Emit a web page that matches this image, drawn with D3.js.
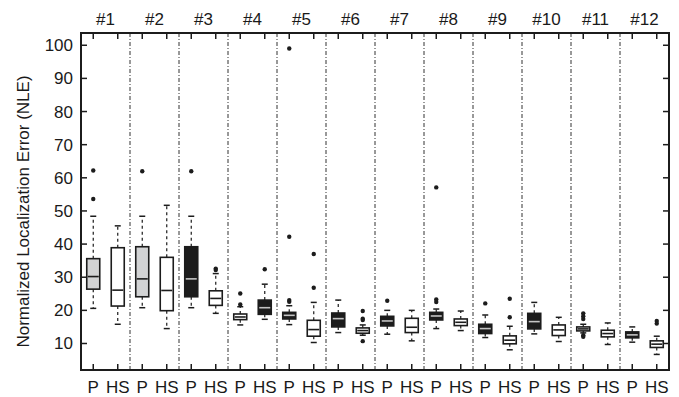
<!DOCTYPE html>
<html lang="en">
<head>
<meta charset="UTF-8">
<title>NLE box plot</title>
<style>
  body { margin: 0; background: #fff; }
  svg { display: block; font-family: "Liberation Sans", Arial, sans-serif; }
  .lbl { font-size: 17px; fill: #1a1a1a; }
</style>
</head>
<body>
<svg id="chart" width="679" height="397"></svg>
<script src="https://cdnjs.cloudflare.com/ajax/libs/d3/7.8.5/d3.min.js"></script>
<script>
// ---- data -------------------------------------------------------------
const groups = ["#1","#2","#3","#4","#5","#6","#7","#8","#9","#10","#11","#12"];
const methods = ["P", "HS"];
const yTicks = [10, 20, 30, 40, 50, 60, 70, 80, 90, 100];

// [lower whisker, q1, median, q3, upper whisker]
const statsP = [
  [20.6, 26.4, 30.2, 35.6, 48.4],
  [20.8, 24.1, 29.5, 39.2, 48.4],
  [20.8, 24.1, 29.5, 39.2, 48.4],
  [15.6, 17.2, 18.0, 18.9, 21.1],
  [15.7, 17.4, 18.5, 19.4, 21.4],
  [13.3, 15.0, 17.5, 19.2, 23.1],
  [12.8, 15.3, 16.8, 18.2, 20.0],
  [14.5, 17.1, 18.3, 19.4, 20.4],
  [11.8, 13.0, 14.5, 15.8, 18.6],
  [12.9, 14.4, 16.6, 19.1, 22.4],
  [13.2, 13.8, 14.4, 15.0, 15.8],
  [10.4, 11.7, 12.6, 13.5, 15.0]
];
const statsHS = [
  [15.8, 21.3, 26.1, 38.9, 45.5],
  [14.5, 19.9, 26.0, 36.0, 51.7],
  [19.1, 21.5, 23.6, 25.9, 31.1],
  [17.3, 18.8, 20.8, 23.1, 27.9],
  [10.3, 12.2, 14.2, 17.0, 22.4],
  [12.5, 13.1, 13.9, 14.7, 15.6],
  [10.8, 13.3, 14.9, 17.6, 20.0],
  [13.9, 15.4, 16.4, 17.4, 19.8],
  [8.1, 9.9, 11.0, 12.3, 15.2],
  [10.6, 12.4, 14.1, 15.6, 17.9],
  [9.7, 12.0, 13.0, 14.0, 16.2],
  [6.7, 8.8, 9.8, 10.8, 12.2]
];
const outliersP = [
  [62.2, 53.6], [62.0], [62.0], [25.1, 21.8], [99.0, 42.2, 23.1, 22.6], [],
  [22.9], [57.1, 23.3, 22.5], [22.1], [], [19.1, 18.2, 17.4, 12.5, 12.0], []
];
const outliersHS = [
  [], [], [32.6, 32.2], [32.4], [37.0, 26.8], [19.8, 17.5, 17.1, 10.7],
  [], [], [23.5, 17.9], [], [], [16.8, 16.0]
];
// box shading class per group
const shadeP  = ["light","light","dark","none","dark","dark","dark","dark","dark","dark","none","dark"];
const shadeHS = ["none","none","none","dark","none","none","none","none","none","none","none","none"];

// ---- layout -----------------------------------------------------------
const svg = d3.select("#chart");
const mLeft = 81, mRight = 669, mTop = 33, mBottom = 370;

const x = d3.scaleBand().domain(groups).range([mLeft, mRight]);
const xm = d3.scalePoint().domain(methods).range([0, x.bandwidth()]).padding(0.5);
const y = d3.scaleLinear().domain([2, 103.7]).range([mBottom, mTop]);

const fill = d3.scaleOrdinal().domain(["light","dark","none"]).range(["#d2d3d4","#1c1c1c","#ffffff"]);
const medianColor = d3.scaleOrdinal().domain(["light","dark","none"]).range(["#1c1c1c","#c4c4c4","#1c1c1c"]);

const boxes = [];
groups.forEach((g, i) => {
  boxes.push({ g, m: "P", s: statsP[i], out: outliersP[i], shade: shadeP[i] });
  boxes.push({ g, m: "HS", s: statsHS[i], out: outliersHS[i], shade: shadeHS[i] });
});

// separators between groups
svg.append("g").selectAll("line")
  .data(groups.slice(1))
  .join("line")
  .attr("x1", d => x(d)).attr("x2", d => x(d))
  .attr("y1", mTop).attr("y2", mBottom)
  .attr("stroke", "#333").attr("stroke-width", 1)
  .attr("stroke-dasharray", "4 2 1 2");

const bw = 13, cap = 6;
const bx = svg.append("g").selectAll("g")
  .data(boxes)
  .join("g")
  .attr("transform", d => `translate(${x(d.g) + xm(d.m)},0)`);

// whiskers
bx.append("line")
  .attr("y1", d => y(d.s[3])).attr("y2", d => y(d.s[4]))
  .attr("stroke", "#1c1c1c").attr("stroke-width", 1.2).attr("stroke-dasharray", "3 3");
bx.append("line")
  .attr("y1", d => y(d.s[1])).attr("y2", d => y(d.s[0]))
  .attr("stroke", "#1c1c1c").attr("stroke-width", 1.2).attr("stroke-dasharray", "3 3");
bx.selectAll("line.cap")
  .data(d => [d.s[0], d.s[4]])
  .join("line")
  .attr("class", "cap")
  .attr("x1", -cap / 2).attr("x2", cap / 2)
  .attr("y1", d => y(d)).attr("y2", d => y(d))
  .attr("stroke", "#1c1c1c").attr("stroke-width", 1.5);

// box
bx.append("rect")
  .attr("x", -bw / 2).attr("width", bw)
  .attr("y", d => y(d.s[3]))
  .attr("height", d => y(d.s[1]) - y(d.s[3]))
  .attr("fill", d => fill(d.shade))
  .attr("stroke", "#1c1c1c").attr("stroke-width", 1.6);
bx.append("line")
  .attr("x1", -bw / 2 + 1).attr("x2", bw / 2 - 1)
  .attr("y1", d => y(d.s[2])).attr("y2", d => y(d.s[2]))
  .attr("stroke", d => medianColor(d.shade)).attr("stroke-width", 1.6);

// outliers
bx.selectAll("circle")
  .data(d => d.out)
  .join("circle")
  .attr("r", 2.2)
  .attr("cy", d => y(d))
  .attr("fill", "#1c1c1c");

// ---- axes / frame -----------------------------------------------------
const tickPos = [];
groups.forEach(g => methods.forEach(m => tickPos.push({ g, m, xp: x(g) + xm(m) })));

const fr = svg.append("g").attr("stroke", "#1c1c1c");
// y ticks left and right
fr.selectAll("line.yl").data(yTicks).join("line").attr("class", "yl")
  .attr("x1", mLeft).attr("x2", mLeft + 6)
  .attr("y1", d => y(d)).attr("y2", d => y(d)).attr("stroke-width", 1.5);
fr.selectAll("line.yr").data(yTicks).join("line").attr("class", "yr")
  .attr("x1", mRight).attr("x2", mRight - 6)
  .attr("y1", d => y(d)).attr("y2", d => y(d)).attr("stroke-width", 1.5);
// x ticks top and bottom
fr.selectAll("line.xb").data(tickPos).join("line").attr("class", "xb")
  .attr("x1", d => d.xp).attr("x2", d => d.xp)
  .attr("y1", mBottom).attr("y2", mBottom - 6).attr("stroke-width", 1.5);
fr.selectAll("line.xt").data(tickPos).join("line").attr("class", "xt")
  .attr("x1", d => d.xp).attr("x2", d => d.xp)
  .attr("y1", mTop).attr("y2", mTop + 6).attr("stroke-width", 1.5);
fr.append("rect")
  .attr("x", mLeft).attr("y", mTop)
  .attr("width", mRight - mLeft).attr("height", mBottom - mTop)
  .attr("fill", "none").attr("stroke-width", 2);

// labels
svg.append("g").selectAll("text")
  .data(yTicks).join("text")
  .attr("class", "lbl")
  .attr("x", mLeft - 8).attr("y", d => y(d) + 6)
  .attr("text-anchor", "end")
  .text(d => d);

svg.append("g").selectAll("text")
  .data(tickPos).join("text")
  .attr("class", "lbl")
  .attr("x", d => d.xp).attr("y", 393)
  .attr("text-anchor", "middle")
  .text(d => d.m);

svg.append("g").selectAll("text")
  .data(groups).join("text")
  .attr("class", "lbl")
  .attr("x", d => x(d) + x.bandwidth() / 2).attr("y", 25)
  .attr("text-anchor", "middle")
  .text(d => d);

svg.append("text")
  .attr("class", "lbl")
  .attr("transform", `translate(29,${(mTop + mBottom) / 2 + 10}) rotate(-90)`)
  .attr("text-anchor", "middle")
  .text("Normalized Localization Error (NLE)");
</script>
</body>
</html>
